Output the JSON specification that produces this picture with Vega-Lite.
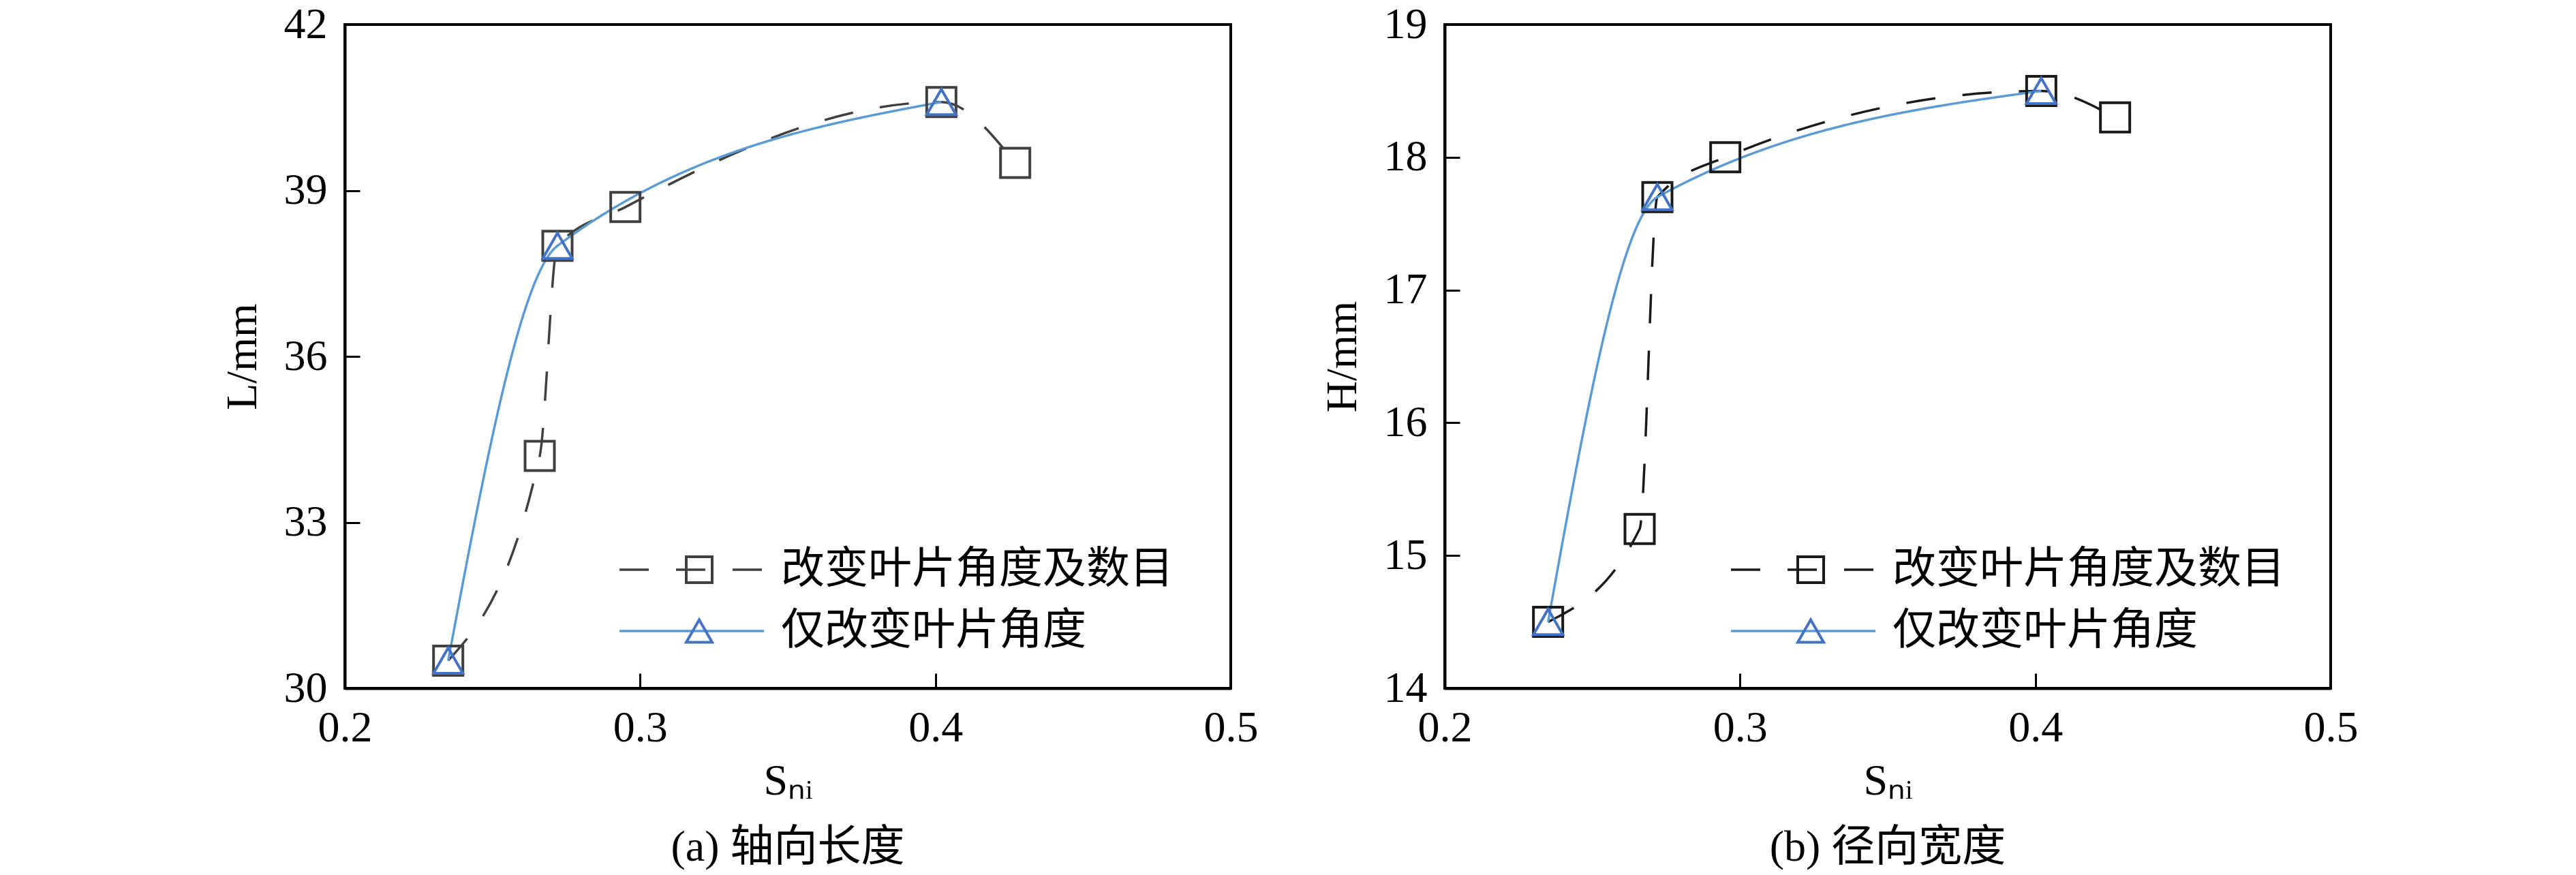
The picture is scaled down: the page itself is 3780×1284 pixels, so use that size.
{
  "$schema": "https://vega.github.io/schema/vega-lite/v6.json",
  "background": "white",
  "padding": {"left": 322, "top": 2, "right": 300, "bottom": 5},
  "config": {
    "font": "Liberation Serif",
    "view": {"stroke": "black", "strokeWidth": 4},
    "axis": {
      "labelFont": "Liberation Serif, Noto Sans CJK SC",
      "titleFont": "Liberation Serif, Noto Sans CJK SC",
      "labelFontSize": 64,
      "titleFontSize": 64,
      "titleFontWeight": "normal",
      "labelColor": "black",
      "titleColor": "black",
      "domainColor": "black",
      "domainWidth": 4,
      "tickColor": "black",
      "tickWidth": 3,
      "tickSize": -22,
      "labelPadding": 48,
      "labelFlush": false,
      "labelOverlap": false,
      "grid": false
    },
    "legend": {
      "labelFont": "Liberation Serif, Noto Sans CJK SC",
      "labelFontSize": 64,
      "labelColor": "black",
      "labelLimit": 2000
    },
    "title": {
      "font": "Liberation Serif, Noto Sans CJK SC",
      "fontSize": 64,
      "fontWeight": "normal",
      "color": "black"
    }
  },
  "data": {
    "values": [
      {"panel": "a", "series": "改变叶片角度及数目", "S": 0.235, "v": 30.5},
      {"panel": "a", "series": "改变叶片角度及数目", "S": 0.266, "v": 34.2},
      {"panel": "a", "series": "改变叶片角度及数目", "S": 0.272, "v": 38.0},
      {"panel": "a", "series": "改变叶片角度及数目", "S": 0.295, "v": 38.7},
      {"panel": "a", "series": "改变叶片角度及数目", "S": 0.402, "v": 40.6},
      {"panel": "a", "series": "改变叶片角度及数目", "S": 0.427, "v": 39.5},
      {"panel": "a", "series": "仅改变叶片角度", "S": 0.235, "v": 30.5},
      {"panel": "a", "series": "仅改变叶片角度", "S": 0.272, "v": 38.0},
      {"panel": "a", "series": "仅改变叶片角度", "S": 0.402, "v": 40.6},
      {"panel": "b", "series": "改变叶片角度及数目", "S": 0.235, "v": 14.5},
      {"panel": "b", "series": "改变叶片角度及数目", "S": 0.266, "v": 15.2},
      {"panel": "b", "series": "改变叶片角度及数目", "S": 0.272, "v": 17.7},
      {"panel": "b", "series": "改变叶片角度及数目", "S": 0.295, "v": 18.0},
      {"panel": "b", "series": "改变叶片角度及数目", "S": 0.402, "v": 18.5},
      {"panel": "b", "series": "改变叶片角度及数目", "S": 0.427, "v": 18.3},
      {"panel": "b", "series": "仅改变叶片角度", "S": 0.235, "v": 14.5},
      {"panel": "b", "series": "仅改变叶片角度", "S": 0.272, "v": 17.7},
      {"panel": "b", "series": "仅改变叶片角度", "S": 0.402, "v": 18.5}
    ]
  },
  "bounds": "flush",
  "spacing": 314,
  "hconcat": [
    {
      "width": 1300,
      "height": 974,
      "title": {"text": "(a) 轴向长度", "orient": "bottom", "offset": 34},
      "transform": [{"filter": "datum.panel == 'a'"}],
      "encoding": {
        "x": {"field": "S", "type": "quantitative", "scale": {"domain": [0.2, 0.5]},
              "axis": {"values": [0.2, 0.3, 0.4, 0.5], "format": ".1f", "title": "Sₙᵢ", "titlePadding": 14}},
        "y": {"field": "v", "type": "quantitative", "scale": {"domain": [30, 42]},
              "axis": {"values": [30, 33, 36, 39, 42], "title": "L/mm", "titlePadding": 28}}
      },
      "layer": [
        {
          "mark": {"type": "line", "interpolate": "monotone", "strokeWidth": 3.5},
          "encoding": {
            "stroke": {"field": "series", "type": "nominal", "sort": "descending",
              "scale": {"range": ["#404040", "#5B9BD5"]},
              "legend": {"title": null, "orient": "none", "legendX": 401, "legendY": 770,
                "symbolType": "stroke", "symbolSize": 44944, "symbolStrokeWidth": 3.5,
                "labelOffset": 23, "padding": 0, "rowPadding": 26, "clipHeight": 60}},
            "strokeDash": {"field": "series", "type": "nominal", "sort": "descending",
              "scale": {"range": [[43, 40], [1, 0]]}}
          }
        },
        {
          "mark": {"type": "point", "filled": false, "size": 1849, "strokeWidth": 4, "opacity": 1},
          "encoding": {
            "color": {"field": "series", "type": "nominal",
              "scale": {"domain": ["改变叶片角度及数目", "仅改变叶片角度"], "range": ["#404040", "#4472C4"]},
              "legend": {"title": null, "orient": "none", "legendX": 401, "legendY": 770,
                "symbolSize": 1444, "symbolStrokeWidth": 4, "symbolOffset": 87,
                "labelExpr": "''", "padding": 0, "rowPadding": 26, "clipHeight": 60}},
            "shape": {"field": "series", "type": "nominal",
              "scale": {"domain": ["改变叶片角度及数目", "仅改变叶片角度"], "range": ["square", "triangle-up"]}}
          }
        }
      ]
    },
    {
      "width": 1300,
      "height": 974,
      "title": {"text": "(b) 径向宽度", "orient": "bottom", "offset": 34},
      "transform": [{"filter": "datum.panel == 'b'"}],
      "encoding": {
        "x": {"field": "S", "type": "quantitative", "scale": {"domain": [0.2, 0.5]},
              "axis": {"values": [0.2, 0.3, 0.4, 0.5], "format": ".1f", "title": "Sₙᵢ", "titlePadding": 14}},
        "y": {"field": "v", "type": "quantitative", "scale": {"domain": [14, 19]},
              "axis": {"values": [14, 15, 16, 17, 18, 19], "title": "H/mm", "titlePadding": 28}}
      },
      "layer": [
        {
          "mark": {"type": "line", "interpolate": "monotone", "strokeWidth": 3.5},
          "encoding": {
            "stroke": {"field": "series", "type": "nominal", "sort": "descending",
              "scale": {"range": ["#1a1a1a", "#5B9BD5"]},
              "legend": {"title": null, "orient": "none", "legendX": 418, "legendY": 770,
                "symbolType": "stroke", "symbolSize": 44944, "symbolStrokeWidth": 3.5,
                "labelOffset": 23, "padding": 0, "rowPadding": 26, "clipHeight": 60}},
            "strokeDash": {"field": "series", "type": "nominal", "sort": "descending",
              "scale": {"range": [[43, 40], [1, 0]]}}
          }
        },
        {
          "mark": {"type": "point", "filled": false, "size": 1849, "strokeWidth": 4, "opacity": 1},
          "encoding": {
            "color": {"field": "series", "type": "nominal",
              "scale": {"domain": ["改变叶片角度及数目", "仅改变叶片角度"], "range": ["#1a1a1a", "#4472C4"]},
              "legend": {"title": null, "orient": "none", "legendX": 418, "legendY": 770,
                "symbolSize": 1444, "symbolStrokeWidth": 4, "symbolOffset": 87,
                "labelExpr": "''", "padding": 0, "rowPadding": 26, "clipHeight": 60}},
            "shape": {"field": "series", "type": "nominal",
              "scale": {"domain": ["改变叶片角度及数目", "仅改变叶片角度"], "range": ["square", "triangle-up"]}}
          }
        }
      ]
    }
  ],
  "resolve": {
    "scale": {"x": "independent", "y": "independent", "stroke": "independent", "strokeDash": "independent", "color": "independent", "shape": "independent"},
    "legend": {"stroke": "independent", "strokeDash": "independent", "color": "independent", "shape": "independent"}
  }
}
